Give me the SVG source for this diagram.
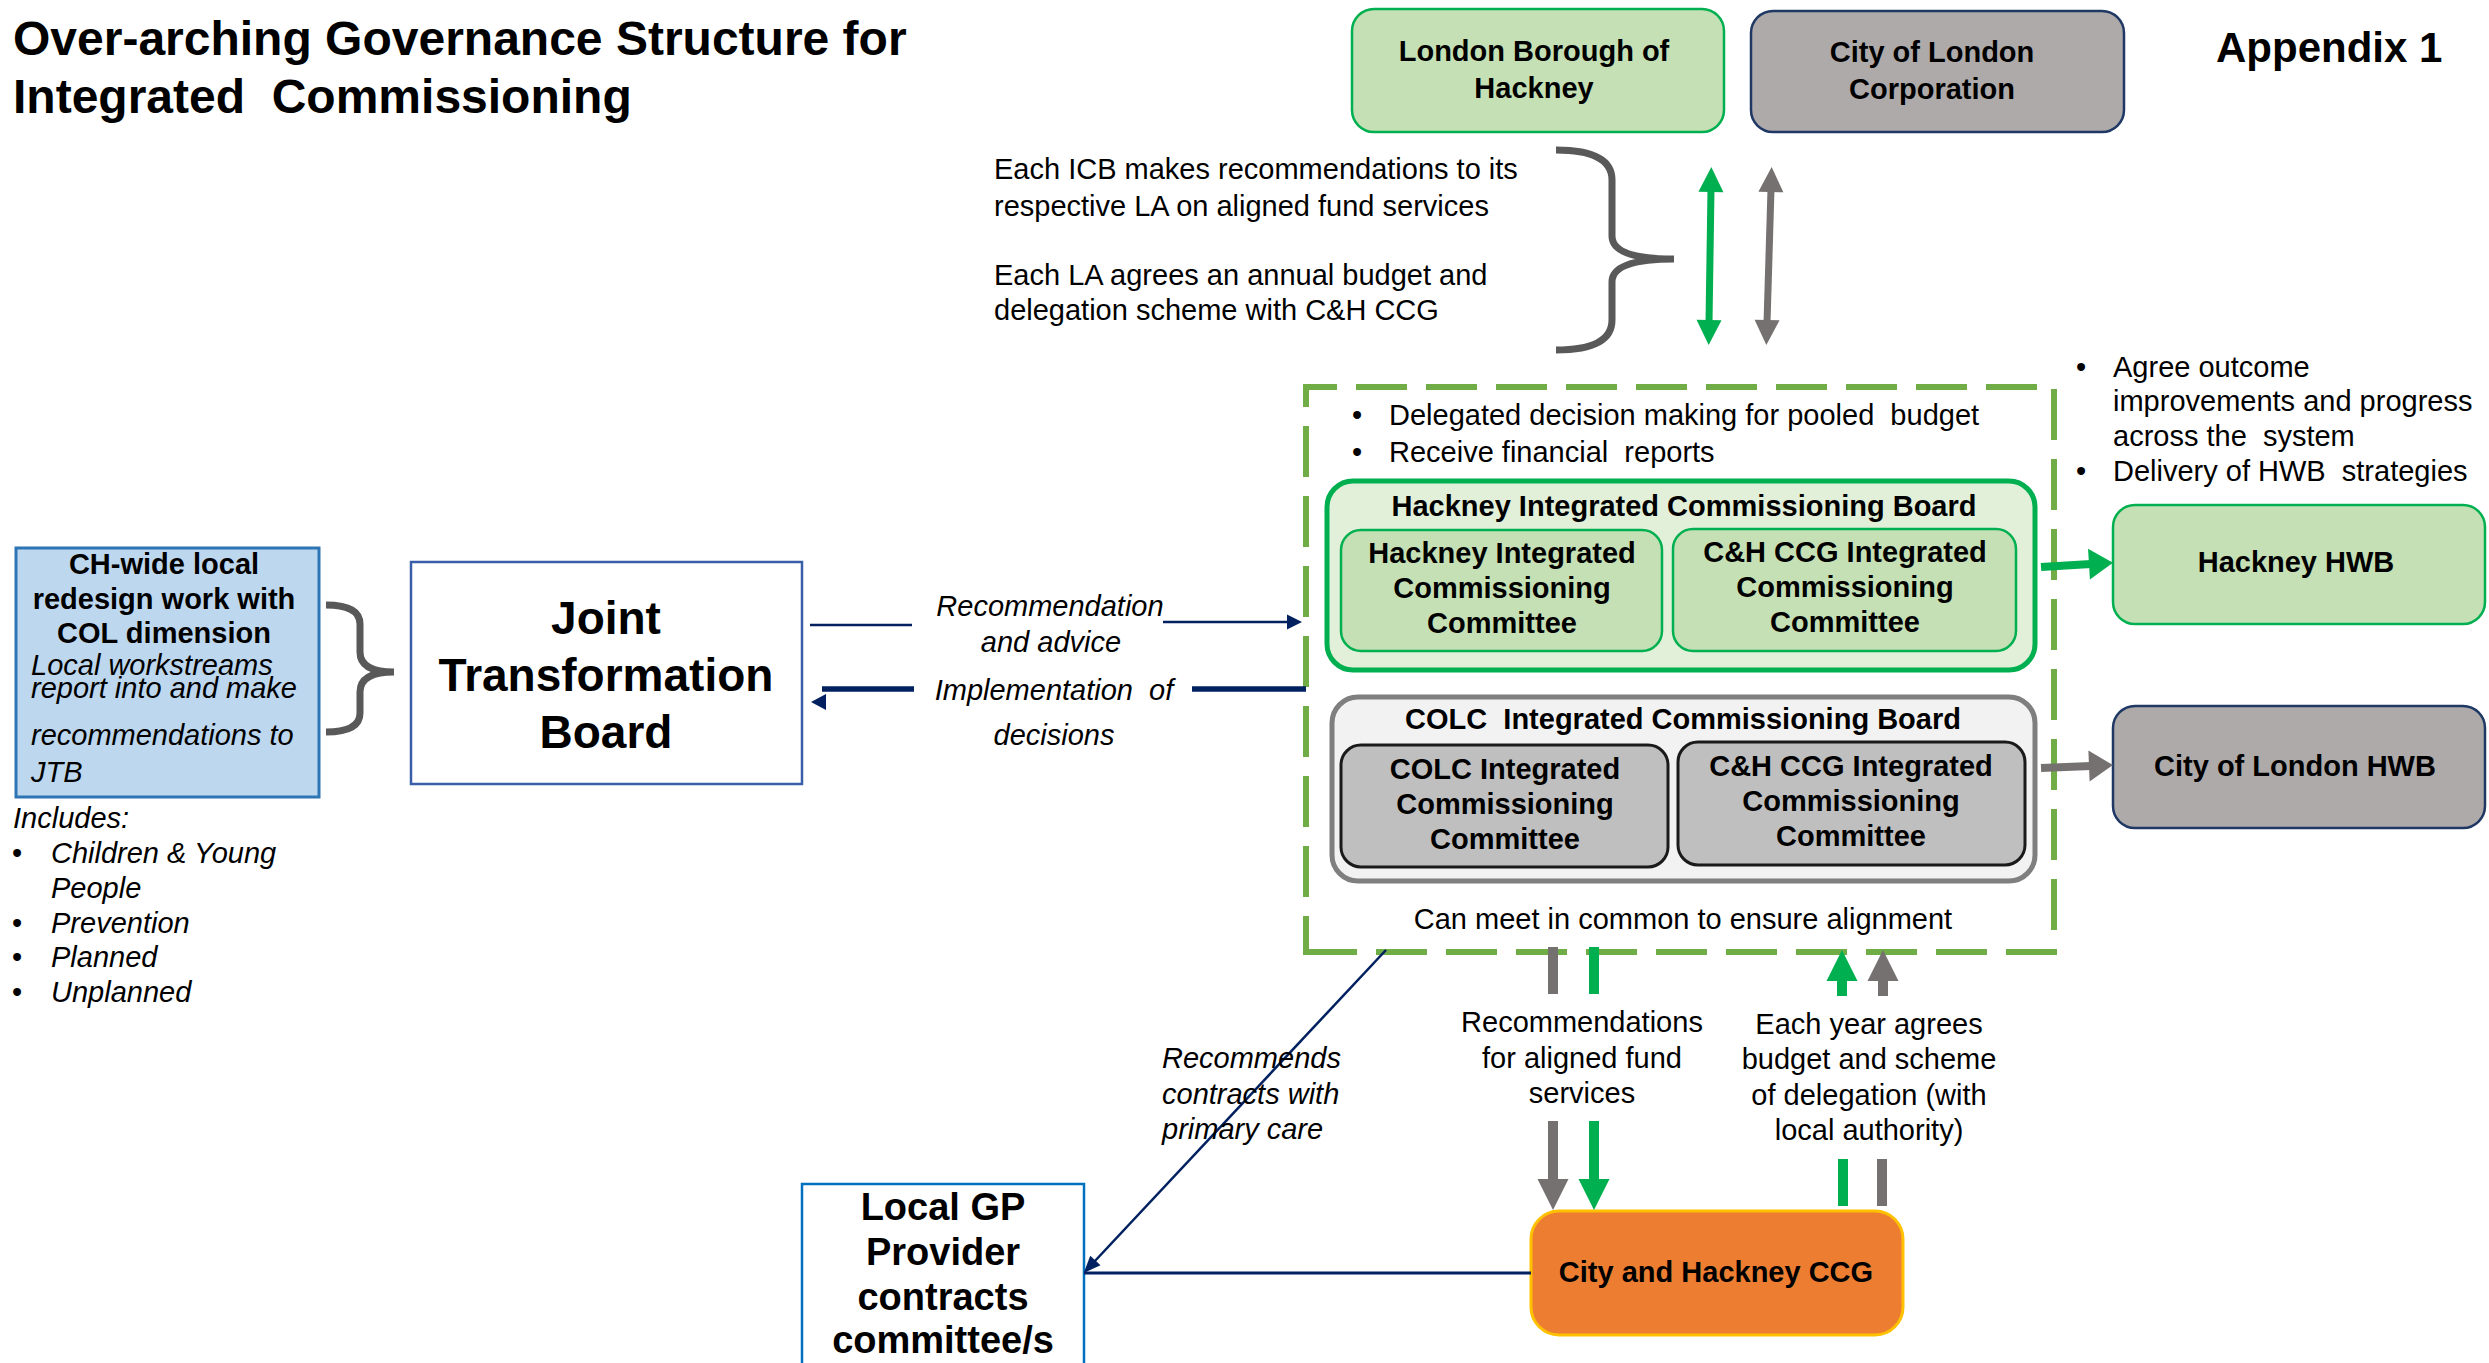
<svg xmlns="http://www.w3.org/2000/svg" width="2489" height="1363" viewBox="0 0 2489 1363">
<style>
text{font-family:"Liberation Sans",Arial,sans-serif;fill:#000}
.b{font-weight:bold}
.i{font-style:italic}
.t29{font-size:29px}
.m{text-anchor:middle}
.green{fill:#c5e0b4;stroke:#00b050;stroke-width:2.5}
.grey{fill:#aeaaaa;stroke:#1f3864;stroke-width:2.5}
.navy{stroke:#002060;fill:none}
.gline{stroke:#00b050;fill:none}
.yline{stroke:#767171;fill:none}
.brace{stroke:#595959;stroke-width:7;fill:none}
</style>
<defs>
<marker id="hGT" markerUnits="userSpaceOnUse" markerWidth="25" markerHeight="25" refX="3" refY="12.5" orient="auto-start-reverse" overflow="visible"><path d="M0,0 L25,12.5 L0,25 z" fill="#00b050"/></marker>
<marker id="hYT" markerUnits="userSpaceOnUse" markerWidth="25" markerHeight="25" refX="3" refY="12.5" orient="auto-start-reverse" overflow="visible"><path d="M0,0 L25,12.5 L0,25 z" fill="#767171"/></marker>
<marker id="hGH" markerUnits="userSpaceOnUse" markerWidth="24" markerHeight="31" refX="2" refY="15.5" orient="auto" overflow="visible"><path d="M0,0 L24,15.5 L0,31 z" fill="#00b050"/></marker>
<marker id="hYH" markerUnits="userSpaceOnUse" markerWidth="24" markerHeight="31" refX="2" refY="15.5" orient="auto" overflow="visible"><path d="M0,0 L24,15.5 L0,31 z" fill="#767171"/></marker>
<marker id="hGV" markerUnits="userSpaceOnUse" markerWidth="31" markerHeight="31" refX="3" refY="15.5" orient="auto" overflow="visible"><path d="M0,0 L31,15.5 L0,31 z" fill="#00b050"/></marker>
<marker id="hYV" markerUnits="userSpaceOnUse" markerWidth="31" markerHeight="31" refX="3" refY="15.5" orient="auto" overflow="visible"><path d="M0,0 L31,15.5 L0,31 z" fill="#767171"/></marker>
<marker id="hN" markerUnits="userSpaceOnUse" markerWidth="15" markerHeight="15" refX="2" refY="7.5" orient="auto" overflow="visible"><path d="M0,0 L15,7.5 L0,15 z" fill="#002060"/></marker>
<marker id="hND" markerUnits="userSpaceOnUse" markerWidth="17" markerHeight="14" refX="2" refY="7" orient="auto" overflow="visible"><path d="M0,0 L17,7 L0,14 z" fill="#002060"/></marker>
</defs>
<rect width="2489" height="1363" fill="#fff"/>

<g id="title">
<text class="b" x="13" y="55" font-size="48">Over-arching Governance Structure for</text>
<text class="b" x="13" y="113" font-size="48" xml:space="preserve">Integrated  Commissioning</text>
</g>
<g id="appendix"><text class="b" x="2216" y="62" font-size="42">Appendix 1</text></g>

<g id="lbh">
<rect class="green" x="1352" y="9" width="372" height="123" rx="22"/>
<text class="b t29 m" x="1534" y="61">London Borough of</text>
<text class="b t29 m" x="1534" y="98">Hackney</text>
</g>
<g id="colc">
<rect class="grey" x="1751" y="11" width="373" height="121" rx="22"/>
<text class="b t29 m" x="1932" y="62">City of London</text>
<text class="b t29 m" x="1932" y="99">Corporation</text>
</g>

<g id="icb-note">
<text class="t29" x="994" y="179">Each ICB makes recommendations to its</text>
<text class="t29" x="994" y="216">respective LA on aligned fund services</text>
<text class="t29" x="994" y="285">Each LA agrees an annual budget and</text>
<text class="t29" x="994" y="320">delegation scheme with C&amp;H CCG</text>
<path class="brace" d="M1556,150 Q1612,150 1612,180 V236 Q1612,259 1674,259 M1674,259 Q1612,259 1612,282 V320 Q1612,350 1556,350"/>
</g>

<g id="local-redesign">
<rect x="16" y="548" width="303" height="249" fill="#bdd7ee" stroke="#2e75b6" stroke-width="3"/>
<text class="b t29 m" x="164" y="574">CH-wide local</text>
<text class="b t29 m" x="164" y="609">redesign work with</text>
<text class="b t29 m" x="164" y="643">COL dimension</text>
<text class="i t29" x="31" y="675">Local workstreams</text>
<text class="i t29" x="31" y="698">report into and make</text>
<text class="i t29" x="31" y="745">recommendations to</text>
<text class="i t29" x="31" y="782">JTB</text>
<path class="brace" d="M326,605 Q360,605 360,624 V652 Q360,672 394,672 M394,672 Q360,672 360,692 V713 Q360,732 326,732"/>
</g>
<g id="includes">
<text class="i t29" x="13" y="828">Includes:</text>
<text class="t29" x="12" y="863">•</text><text class="i t29" x="51" y="863">Children &amp; Young</text>
<text class="i t29" x="51" y="898">People</text>
<text class="t29" x="12" y="933">•</text><text class="i t29" x="51" y="933">Prevention</text>
<text class="t29" x="12" y="967">•</text><text class="i t29" x="51" y="967">Planned</text>
<text class="t29" x="12" y="1002">•</text><text class="i t29" x="51" y="1002">Unplanned</text>
</g>

<g id="jtb">
<rect x="411" y="562" width="391" height="222" fill="#fff" stroke="#3a5fa8" stroke-width="2.5"/>
<text class="b m" x="606" y="634" font-size="46">Joint</text>
<text class="b m" x="606" y="691" font-size="46">Transformation</text>
<text class="b m" x="606" y="748" font-size="46">Board</text>
</g>

<g id="delegation">
<path d="M1306,952 H2054 V387 H1306 Z" fill="none" stroke="#70ad47" stroke-width="6" stroke-dasharray="51 19"/>
<text class="t29" x="1352" y="425">•</text><text class="t29" x="1389" y="425" xml:space="preserve">Delegated decision making for pooled  budget</text>
<text class="t29" x="1352" y="462">•</text><text class="t29" x="1389" y="462" xml:space="preserve">Receive financial  reports</text>
<text class="t29 m" x="1683" y="929">Can meet in common to ensure alignment</text>
</g>

<g id="hackney-icb">
<rect x="1327" y="481" width="708" height="189" rx="26" fill="#e2f0d9" stroke="#00b050" stroke-width="5"/>
<text class="b t29 m" x="1684" y="516">Hackney Integrated Commissioning Board</text>
</g>
<g id="hackney-icc">
<rect class="green" x="1341" y="530" width="321" height="121" rx="20"/>
<text class="b t29 m" x="1502" y="563">Hackney Integrated</text>
<text class="b t29 m" x="1502" y="598">Commissioning</text>
<text class="b t29 m" x="1502" y="633">Committee</text>
</g>
<g id="ch-icc-hackney">
<rect class="green" x="1673" y="529" width="343" height="122" rx="20"/>
<text class="b t29 m" x="1845" y="562">C&amp;H CCG Integrated</text>
<text class="b t29 m" x="1845" y="597">Commissioning</text>
<text class="b t29 m" x="1845" y="632">Committee</text>
</g>

<g id="colc-icb">
<rect x="1332" y="697" width="703" height="184" rx="26" fill="#f2f2f2" stroke="#7f7f7f" stroke-width="5"/>
<text class="b t29 m" x="1683" y="729" xml:space="preserve">COLC  Integrated Commissioning Board</text>
</g>
<g id="colc-icc">
<rect x="1341" y="745" width="327" height="122" rx="20" fill="#bfbfbf" stroke="#1a1a1a" stroke-width="3"/>
<text class="b t29 m" x="1505" y="779">COLC Integrated</text>
<text class="b t29 m" x="1505" y="814">Commissioning</text>
<text class="b t29 m" x="1505" y="849">Committee</text>
</g>
<g id="ch-icc-colc">
<rect x="1678" y="742" width="347" height="123" rx="20" fill="#bfbfbf" stroke="#1a1a1a" stroke-width="3"/>
<text class="b t29 m" x="1851" y="776">C&amp;H CCG Integrated</text>
<text class="b t29 m" x="1851" y="811">Commissioning</text>
<text class="b t29 m" x="1851" y="846">Committee</text>
</g>

<g id="hwb-note">
<text class="t29" x="2076" y="377">•</text><text class="t29" x="2113" y="377">Agree outcome</text>
<text class="t29" x="2113" y="411">improvements and progress</text>
<text class="t29" x="2113" y="446" xml:space="preserve">across the  system</text>
<text class="t29" x="2076" y="481">•</text><text class="t29" x="2113" y="481" xml:space="preserve">Delivery of HWB  strategies</text>
</g>
<g id="hackney-hwb">
<rect class="green" x="2113" y="505" width="372" height="119" rx="22"/>
<text class="b t29 m" x="2296" y="572">Hackney HWB</text>
</g>
<g id="col-hwb">
<rect class="grey" x="2113" y="706" width="372" height="122" rx="22"/>
<text class="b t29 m" x="2295" y="776">City of London HWB</text>
</g>

<g id="gp">
<rect x="802" y="1184" width="282" height="190" fill="#fff" stroke="#0070c0" stroke-width="2.5"/>
<text class="b m" x="943" y="1220" font-size="38">Local GP</text>
<text class="b m" x="943" y="1265" font-size="38">Provider</text>
<text class="b m" x="943" y="1310" font-size="38">contracts</text>
<text class="b m" x="943" y="1353" font-size="38">committee/s</text>
</g>
<g id="ccg">
<rect x="1531" y="1211" width="372" height="124" rx="28" fill="#ed7d31" stroke="#ffc000" stroke-width="3"/>
<text class="b t29 m" x="1716" y="1282">City and Hackney CCG</text>
</g>

<g id="connectors">
<path class="gline" stroke-width="7" d="M1711,189 L1709,323" marker-start="url(#hGT)" marker-end="url(#hGT)"/>
<path class="yline" stroke-width="7" d="M1771,189 L1767,323" marker-start="url(#hYT)" marker-end="url(#hYT)"/>
<path class="gline" stroke-width="8" d="M2041,567 L2091,564" marker-end="url(#hGH)"/>
<path class="yline" stroke-width="8" d="M2041,768 L2091,766" marker-end="url(#hYH)"/>
<path class="navy" stroke-width="2.5" d="M810,625 H912"/>
<path class="navy" stroke-width="2.5" d="M1163,622 H1289" marker-end="url(#hN)"/>
<path class="navy" stroke-width="5.5" d="M1192,689 H1306"/>
<path class="navy" stroke-width="5.5" d="M914,689 H822"/>
<polygon points="811,702 826,694 826,710" fill="#002060"/>
<path class="navy" stroke-width="2.5" d="M1386,950 L1094,1262" marker-end="url(#hND)"/>
<path class="navy" stroke-width="3" d="M1531,1273 H1084"/>
<path class="yline" stroke-width="10" d="M1553,947 V994"/>
<path class="gline" stroke-width="10" d="M1594,947 V994"/>
<path class="yline" stroke-width="10" d="M1553,1121 V1182" marker-end="url(#hYV)"/>
<path class="gline" stroke-width="10" d="M1594,1121 V1182" marker-end="url(#hGV)"/>
<path class="gline" stroke-width="10" d="M1842,996 V978" marker-end="url(#hGV)"/>
<path class="yline" stroke-width="10" d="M1883,996 V978" marker-end="url(#hYV)"/>
<path class="gline" stroke-width="10" d="M1843,1159 V1206"/>
<path class="yline" stroke-width="10" d="M1882,1159 V1206"/>
</g>

<g id="labels">
<text class="i t29 m" x="1050" y="616">Recommendation</text>
<text class="i t29 m" x="1051" y="652">and advice</text>
<text class="i t29 m" x="1054" y="700" xml:space="preserve">Implementation  of</text>
<text class="i t29 m" x="1054" y="745">decisions</text>
<text class="i t29" x="1162" y="1068">Recommends</text>
<text class="i t29" x="1162" y="1104">contracts with</text>
<text class="i t29" x="1162" y="1139">primary care</text>
<text class="t29 m" x="1582" y="1032">Recommendations</text>
<text class="t29 m" x="1582" y="1068">for aligned fund</text>
<text class="t29 m" x="1582" y="1103">services</text>
<text class="t29 m" x="1869" y="1034">Each year agrees</text>
<text class="t29 m" x="1869" y="1069">budget and scheme</text>
<text class="t29 m" x="1869" y="1105">of delegation (with</text>
<text class="t29 m" x="1869" y="1140">local authority)</text>
</g>
</svg>
